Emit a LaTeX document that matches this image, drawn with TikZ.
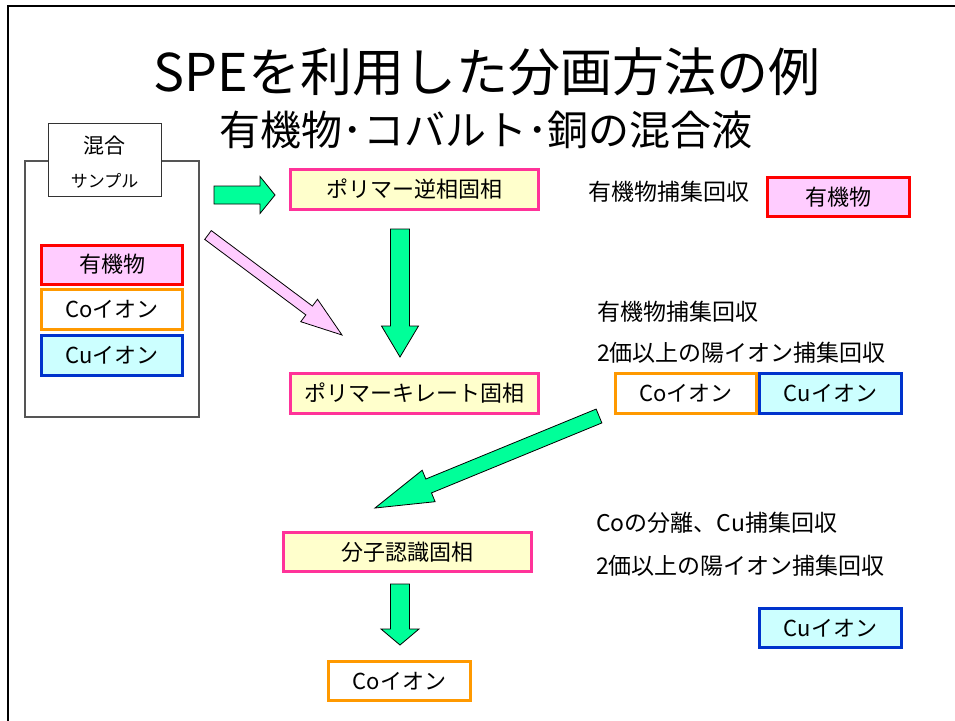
\documentclass[tikz,border=0pt]{standalone}
\usepackage{fontspec}
\newfontfamily\jp{Noto Sans CJK JP}
\usetikzlibrary{calc}
\definecolor{phasepink}{HTML}{FF3399}
\definecolor{phaseyellow}{HTML}{FFFFCC}
\definecolor{orgred}{HTML}{FF0000}
\definecolor{orgpink}{HTML}{FFCCFF}
\definecolor{coorange}{HTML}{FF9900}
\definecolor{cublue}{HTML}{0033CC}
\definecolor{cucyan}{HTML}{CCFFFF}
\definecolor{arrgreen}{HTML}{00FF99}
\definecolor{framegray}{HTML}{555555}
\newcommand\blockarr[6]{%
  \coordinate (hb) at ($(#2)!#5!(#1)$);
  \draw[arrowedge, fill=#6]
    ($(#1)!#3!90:(#2)$) -- ($(hb)!#3!-90:(#1)$) -- ($(hb)!#4!-90:(#1)$) -- (#2)
    -- ($(hb)!#4!90:(#1)$) -- ($(hb)!#3!90:(#1)$) -- ($(#1)!#3!-90:(#2)$) -- cycle;
}
\tikzset{
  every node/.style={font=\jp},
  arrowedge/.style={draw=black, line width=0.8pt, line join=miter},
  box/.style={draw, line width=3pt, inner sep=0pt, font=\jp\fontsize{22}{26}\selectfont},
  phase/.style={box, draw=phasepink, fill=phaseyellow, minimum width=248pt, minimum height=40pt},
  orgbox/.style={box, draw=orgred, fill=orgpink, minimum width=141pt, minimum height=39pt},
  cobox/.style={box, draw=coorange, fill=white, minimum width=141pt, minimum height=40pt},
  cubox/.style={box, draw=cublue, fill=cucyan, minimum width=141pt, minimum height=40pt},
  note/.style={anchor=west, inner sep=0pt, font=\jp\fontsize{23}{27}\selectfont},
}
\begin{document}
\begin{tikzpicture}[x=1pt,y=-1pt]
\useasboundingbox (0,0) rectangle (955,720);
\draw[line width=2.5pt] (8,721) -- (8,6) -- (956,6);

% titles
\node (title) at (487,72) {\fontsize{52}{58}\selectfont SPEを利用した分画方法の例};
\node (subtitle) at (486,130) {\fontsize{41}{46}\selectfont 有機物･コバルト･銅の混合液};

% sample container
\node[draw=framegray, line width=1.2pt, minimum width=174pt, minimum height=256pt, inner sep=0pt] (sample) at (112,289) {};
\node[draw=black!80, line width=1pt, fill=white, minimum width=113pt, minimum height=73pt, inner sep=0pt] (tab) at (104.5,159.5) {};
\node (mix) at (104.5,146) {\fontsize{21}{24}\selectfont 混合};
\node (spl) at (104.5,181) {\fontsize{17}{20}\selectfont サンプル};
\node[orgbox] (org1) at (112,264.5) {有機物};
\node[cobox] (co1) at (112,309.5) {Coイオン};
\node[cubox] (cu1) at (112,355.5) {Cuイオン};

% solid phases
\node[phase] (rev) at (414.5,189.5) {ポリマー逆相固相};
\node[phase] (chel) at (414.5,393.5) {ポリマーキレート固相};
\node[phase, minimum height=39pt] (mol) at (407.5,552) {分子認識固相};
\node[cobox, minimum width=142pt, minimum height=39pt] (co3) at (399.5,681) {Coイオン};

% right side
\node[note] (t1) at (588,192) {有機物捕集回収};
\node[orgbox, minimum width=142pt] (org2) at (838.5,197) {有機物};
\node[note] (t2) at (597,312) {有機物捕集回収};
\node[note] (t3) at (597,353) {2価以上の陽イオン捕集回収};
\node[cobox] (co2) at (686,393.5) {Coイオン};
\node[cubox, minimum width=142pt] (cu2) at (830.5,393.5) {Cuイオン};
\node[note] (t4) at (596,523) {Coの分離、Cu捕集回収};
\node[note] (t5) at (596,566) {2価以上の陽イオン捕集回収};
\node[cubox, minimum width=142pt, minimum height=39pt] (cu3) at (830.5,628) {Cuイオン};

% block arrows
\coordinate (a1s) at (214,195);  \coordinate (a1e) at (275,195);
\coordinate (a2s) at (208,235);  \coordinate (a2e) at (342,335);
\coordinate (a3s) at (400,229);  \coordinate (a3e) at (400,357);
\coordinate (a4s) at (599,416);  \coordinate (a4e) at (375,508);
\coordinate (a5s) at (400,584);  \coordinate (a5e) at (400,645);
\blockarr{a1s}{a1e}{9pt}{18.5pt}{15pt}{arrgreen}
\blockarr{a2s}{a2e}{5.5pt}{14pt}{41pt}{orgpink}
\blockarr{a3s}{a3e}{9.5pt}{18.5pt}{31pt}{arrgreen}
\blockarr{a4s}{a4e}{7.5pt}{17pt}{58pt}{arrgreen}
\blockarr{a5s}{a5e}{9.5pt}{19pt}{16pt}{arrgreen}
\end{tikzpicture}
\end{document}
